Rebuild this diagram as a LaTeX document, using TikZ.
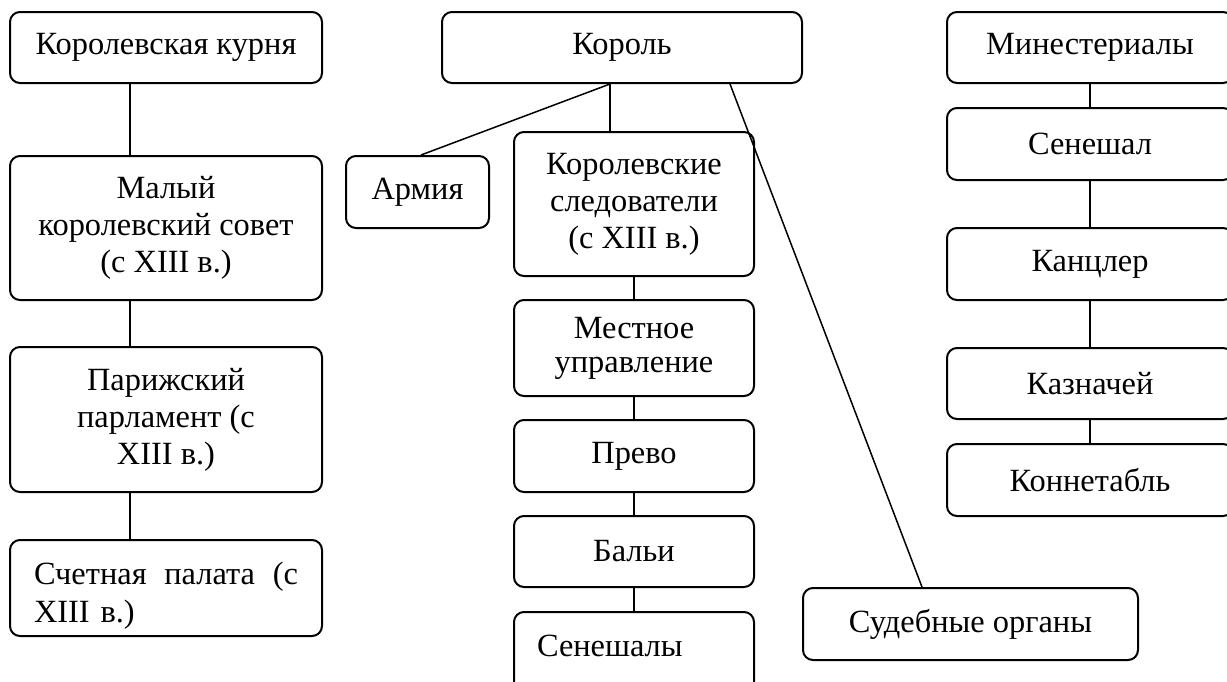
\documentclass[tikz,border=0pt]{standalone}
\usepackage{fontspec}
\setmainfont{Liberation Serif}
\begin{document}
\begin{tikzpicture}[x=0.5pt,y=-0.5pt,
  box/.style={draw, line width=1pt, rounded corners=5pt, inner sep=0pt, align=center,
    font=\fontsize{16.2}{18.5}\selectfont},
  link/.style={line width=0.75pt}]
\clip (0,0) rectangle (1227,681);
% left column
\node[box, minimum width=156pt, minimum height=35.5pt] (kur) at (166,47.5) {Королевская курня};
\node[box, minimum width=156pt, minimum height=72pt] (mal) at (166,228) {Малый\\королевский совет\\(с XIII в.)};
\node[box, minimum width=156pt, minimum height=72.5pt] (par) at (166,419.5) {Парижский\\парламент (с\\XIII в.)};
\node[box, minimum width=156pt, minimum height=48pt, text width=132pt, align=left,
  font=\fontsize{16.2}{19}\selectfont] (sch) at (166,588)
  {\rule{0pt}{18.5pt}\makebox[132pt]{Счетная\hfill палата\hfill (с}\\XIII в.)};
% middle
\node[box, minimum width=180pt, minimum height=35.5pt] (kor) at (622,47.5) {Король};
\node[box, minimum width=71.5pt, minimum height=36pt] (arm) at (417.5,192) {Армия};
\node[box, minimum width=120pt, minimum height=72pt] (sled) at (634,204) {Королевские\\следователи\\(с XIII в.)};
\node[box, minimum width=120pt, minimum height=48pt, font=\fontsize{16.2}{17}\selectfont] (mest) at (634,348) {Местное\\управление};
\node[box, minimum width=120pt, minimum height=36pt] (prev) at (634,456) {Прево};
\node[box, minimum width=120pt, minimum height=35.5pt] (bal) at (634,551.5) {Бальи};
\node[box, minimum width=120pt, minimum height=44pt, text width=97pt, align=left, text height=8pt, text depth=8pt] (sen) at (634,656) {Сенешалы};
\node[box, minimum width=167.5pt, minimum height=36pt] (sud) at (970.5,624) {Судебные органы};
% right column
\node[box, minimum width=143pt, minimum height=35.5pt] (min) at (1090,47.5) {Минестериалы};
\node[box, minimum width=143pt, minimum height=36pt] (senl) at (1090,144) {Сенешал};
\node[box, minimum width=143pt, minimum height=36pt] (kanc) at (1090,264) {Канцлер};
\node[box, minimum width=143pt, minimum height=35.5pt] (kaz) at (1090,383.5) {Казначей};
\node[box, minimum width=143pt, minimum height=36pt] (kon) at (1090,480) {Коннетабль};
% connectors
\draw[link] ([xshift=-18pt]kur.south) -- ([xshift=-18pt]mal.north);
\draw[link] ([xshift=-18pt]mal.south) -- ([xshift=-18pt]par.north);
\draw[link] ([xshift=-18pt]par.south) -- ([xshift=-18pt]sch.north);
\draw[link] ([xshift=-6pt]kor.south) -- ([xshift=1.75pt]arm.north);
\draw[link] ([xshift=-6pt]kor.south) -- ([xshift=-12pt]sled.north);
\draw[link] ([xshift=54pt]kor.south) -- ([xshift=-24.25pt]sud.north);
\draw[link] (sled) -- (mest);
\draw[link] (mest) -- (prev);
\draw[link] (prev) -- (bal);
\draw[link] (bal) -- (sen);
\draw[link] (min) -- (senl);
\draw[link] (senl) -- (kanc);
\draw[link] (kanc) -- (kaz);
\draw[link] (kaz) -- (kon);
\end{tikzpicture}
\end{document}
